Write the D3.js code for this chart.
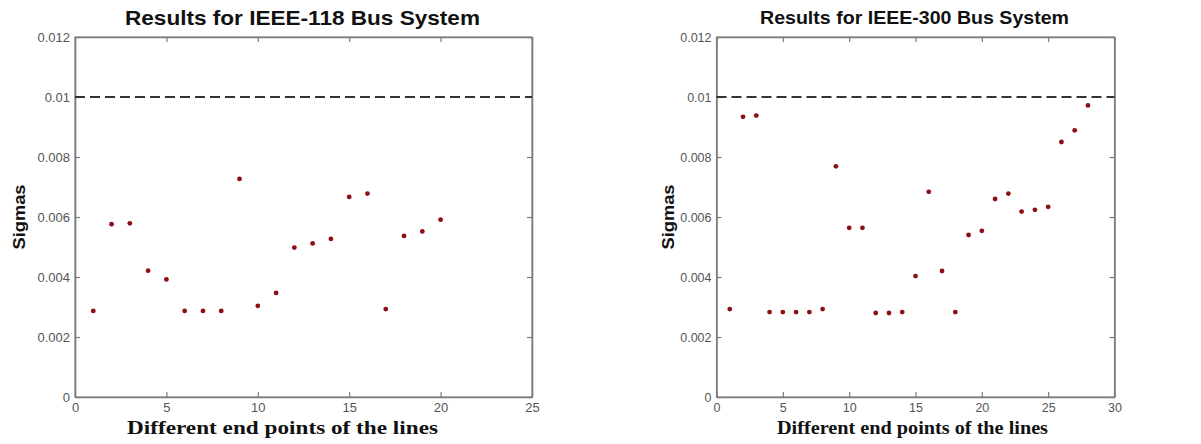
<!DOCTYPE html>
<html><head><meta charset="utf-8">
<script src="https://cdn.jsdelivr.net/npm/d3@7/dist/d3.min.js"></script>
<style>body{margin:0;background:#fff}svg{display:block}</style>
</head><body>
<svg id="c" width="1201" height="444"></svg>
<script>
// ---- data ----
const xLeft = d3.range(1, 21);
const sigmaLeft = [0.00287,0.00576,0.00579,0.00421,0.00392,0.00287,0.00287,0.00287,0.00727,0.00304,
                   0.00347,0.00498,0.00512,0.00527,0.00667,0.00678,0.00293,0.00537,0.00552,0.00591];
const xRight = d3.range(1, 29);
const sigmaRight = [0.00293,0.00934,0.00938,0.00283,0.00283,0.00283,0.00283,0.00293,0.00769,0.00564,
                    0.00564,0.00280,0.00280,0.00283,0.00403,0.00684,0.00420,0.00283,0.00540,0.00554,
                    0.00660,0.00678,0.00618,0.00624,0.00634,0.00850,0.00889,0.00972];
const threshold = 0.01;
const yTicks = [0, 0.002, 0.004, 0.006, 0.008, 0.01, 0.012];
const yTickLabels = ["0","0.002","0.004","0.006","0.008","0.01","0.012"];
const xTicksLeft = [0,5,10,15,20,25];
const xTicksRight = [0,5,10,15,20,25,30];
const titles = ["Results for IEEE-118 Bus System", "Results for IEEE-300 Bus System"];
const xLabel = "Different end points of the lines";
const yLabel = "Sigmas";

const svg = d3.select("#c");

function panel(cfg) {
  const g = svg.append("g");
  const x = d3.scaleLinear().domain([0, cfg.xmax]).range([cfg.x0, cfg.x1]);
  const y = d3.scaleLinear().domain([0, 0.012]).range([cfg.y1, cfg.y0]);
  const axisCol = "#7a7a7a";
  g.append("rect").attr("x", cfg.x0).attr("y", cfg.y0).attr("width", cfg.x1 - cfg.x0).attr("height", cfg.y1 - cfg.y0)
    .attr("fill", "none").attr("stroke", "#9a9a9a").attr("stroke-width", 1.2);
  const ax = g.append("g").attr("transform", `translate(0,${cfg.y1})`)
    .call(d3.axisBottom(x).tickValues(cfg.xticks).tickSizeInner(-5).tickSizeOuter(0).tickPadding(6));
  const ay = g.append("g").attr("transform", `translate(${cfg.x0},0)`)
    .call(d3.axisLeft(y).tickValues(yTicks).tickFormat((d,i)=>yTickLabels[i]).tickSizeInner(-5).tickSizeOuter(0).tickPadding(5));
  const axT = g.append("g").attr("transform", `translate(0,${cfg.y0})`)
    .call(d3.axisTop(x).tickValues(cfg.xticks).tickSizeInner(-5).tickSizeOuter(0).tickFormat(""));
  const ayR = g.append("g").attr("transform", `translate(${cfg.x1},0)`)
    .call(d3.axisRight(y).tickValues(yTicks).tickSizeInner(-5).tickSizeOuter(0).tickFormat(""));
  [ax, ay, axT, ayR].forEach(a => {
    a.select(".domain").attr("stroke", axisCol).attr("stroke-width", 1.6);
    a.selectAll(".tick line").attr("stroke", axisCol).attr("stroke-width", 1.2);
    a.selectAll("text").attr("fill", "#555").attr("font-family", "Liberation Sans, Arial, sans-serif")
      .attr("font-size", cfg.tickFs);
  });
  ax.selectAll("text").attr("dy", "0.71em");
  g.append("line").attr("x1", x(0)).attr("x2", x(cfg.xmax)).attr("y1", y(threshold)).attr("y2", y(threshold))
    .attr("stroke", "#333").attr("stroke-width", 2).attr("stroke-dasharray", "10,5");
  g.selectAll("circle.pt").data(cfg.xs.map((d,i)=>[d, cfg.vals[i]])).enter().append("circle")
    .attr("class","pt").attr("cx", d => x(d[0])).attr("cy", d => y(d[1])).attr("r", 2.4)
    .attr("fill", "#8b0f14");
  g.append("text").attr("x", cfg.titleX).attr("y", cfg.titleY).attr("text-anchor", "middle")
    .attr("font-family", "Liberation Sans, Arial, sans-serif").attr("font-weight", "bold")
    .attr("font-size", cfg.titleFs).attr("fill", "#111")
    .attr("textLength", cfg.titleW).attr("lengthAdjust", "spacingAndGlyphs").text(cfg.title);
  g.append("text").attr("x", cfg.xlabX).attr("y", cfg.xlabY).attr("text-anchor", "middle")
    .attr("font-family", "Liberation Serif, Times New Roman, serif").attr("font-weight", "bold")
    .attr("font-size", cfg.xlabFs).attr("fill", "#111")
    .attr("textLength", cfg.xlabW).attr("lengthAdjust", "spacingAndGlyphs").text(xLabel);
  g.append("text").attr("transform", `translate(${cfg.ylabX},${cfg.ylabY}) rotate(-90)`).attr("text-anchor", "middle")
    .attr("font-family", "Liberation Sans, Arial, sans-serif").attr("font-weight", "bold")
    .attr("font-size", cfg.ylabFs).attr("fill", "#111")
    .attr("textLength", 65).attr("lengthAdjust", "spacingAndGlyphs").text(yLabel);
}

panel({x0:75, x1:532, y0:37, y1:397, xmax:25, xticks:xTicksLeft, xs:xLeft, vals:sigmaLeft,
  tickFs:13, title:titles[0], titleX:302.5, titleY:25, titleFs:21, titleW:355,
  xlabX:282.5, xlabY:434, xlabFs:18, xlabW:311, ylabX:25, ylabY:217, ylabFs:17});
panel({x0:716.5, x1:1114.5, y0:37, y1:397, xmax:30, xticks:xTicksRight, xs:xRight, vals:sigmaRight,
  tickFs:12.5, title:titles[1], titleX:914.5, titleY:24, titleFs:19, titleW:309,
  xlabX:912.5, xlabY:434, xlabFs:18, xlabW:271, ylabX:674, ylabY:217, ylabFs:17});
</script>
</body></html>
